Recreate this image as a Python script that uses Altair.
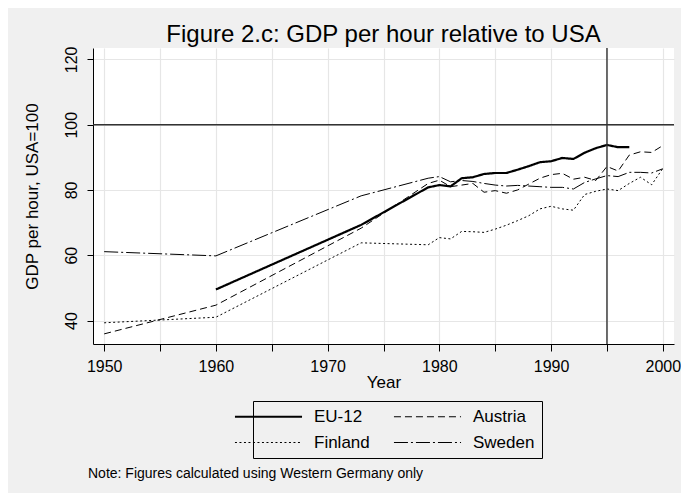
import altair as alt
import pandas as pd

# ---- data ----
countries = ["EU-12", "Austria", "Finland", "Sweden"]

years_eu = [1960, 1973, 1979, 1980, 1981, 1982, 1983, 1984, 1985, 1986, 1987,
            1988, 1989, 1990, 1991, 1992, 1993, 1994, 1995, 1996, 1997]
eu12 = [49.5, 69.3, 80.8, 81.5, 81.1, 83.6, 83.9, 84.9, 85.2, 85.2, 86.2,
        87.3, 88.5, 88.8, 89.8, 89.5, 91.4, 92.8, 93.8, 93.1, 93.1]

years_other = [1950, 1960, 1973, 1979, 1980, 1981, 1982, 1983, 1984, 1985,
               1986, 1987, 1988, 1989, 1990, 1991, 1992, 1993, 1994, 1995,
               1996, 1997, 1998, 1999, 2000]
austria = [35.9, 44.7, 68.3, 82.0, 83.0, 81.0, 81.5, 82.0, 79.3, 79.8,
           79.0, 80.0, 81.8, 83.6, 84.7, 85.1, 83.3, 83.9, 82.9, 87.2,
           85.8, 90.7, 91.7, 91.5, 93.6]
finland = [39.3, 41.0, 63.8, 63.2, 65.4, 65.0, 67.3, 67.2, 67.0, 68.0,
           69.2, 70.6, 72.1, 74.2, 75.0, 74.2, 73.8, 78.6, 79.6, 80.3,
           79.8, 82.0, 83.9, 81.6, 86.6]
sweden = [61.1, 59.8, 78.2, 83.6, 84.1, 82.5, 82.9, 82.6, 82.0, 81.5,
          81.2, 81.4, 81.2, 81.0, 80.8, 80.8, 80.3, 82.3, 83.4, 84.4,
          84.1, 85.4, 85.4, 85.2, 86.5]

x_ticks = [1950, 1955, 1960, 1965, 1970, 1975, 1980, 1985, 1990, 1995, 2000]
y_ticks = [40, 60, 80, 100, 120]
ref_y = [100]
ref_x = [1995]
note = "Note: Figures calculated using Western Germany only"
title = "Figure 2.c: GDP per hour relative to USA"

rows = []
for y, v in zip(years_eu, eu12):
    rows.append({"country": "EU-12", "year": y, "value": v})
for name, vals in [("Austria", austria), ("Finland", finland), ("Sweden", sweden)]:
    for y, v in zip(years_other, vals):
        rows.append({"country": name, "year": y, "value": v})
df = pd.DataFrame(rows)

FONT = "Liberation Sans"

xscale = alt.Scale(domain=[1949, 2001], nice=False, zero=False)
yscale = alt.Scale(domain=[32.8, 123.5], nice=False, zero=False)

xaxis = alt.Axis(values=x_ticks, format="d",
                 labelExpr="datum.value % 10 == 0 ? datum.label : ''",
                 title="Year", grid=True, gridColor="#e6e6e6", gridWidth=1.2,
                 tickSize=7, tickColor="black", domainColor="black",
                 labelFontSize=16, titleFontSize=17, labelPadding=7,
                 titlePadding=0, labelFont=FONT, titleFont=FONT,
                 labelColor="black", titleColor="black", titleFontWeight="normal")
yaxis = alt.Axis(values=y_ticks, title="GDP per hour, USA=100", grid=True,
                 gridColor="#e6e6e6", gridWidth=1.2, tickSize=6,
                 tickColor="black", domainColor="black", labelAngle=-90,
                 labelAlign="center", labelBaseline="bottom", labelPadding=8,
                 labelFontSize=16, titleFontSize=17, titlePadding=22,
                 labelFont=FONT, titleFont=FONT, labelColor="black",
                 titleColor="black", titleFontWeight="normal")

lines = alt.Chart(df).mark_line(color="black").encode(
    x=alt.X("year:Q", scale=xscale, axis=xaxis),
    y=alt.Y("value:Q", scale=yscale, axis=yaxis),
    strokeDash=alt.StrokeDash("country:N",
                              scale=alt.Scale(domain=countries,
                                              range=[[1, 0], [7, 4], [2, 2.5], [14, 3, 2, 3]]),
                              legend=alt.Legend(title=None)),
    strokeWidth=alt.StrokeWidth("country:N",
                                scale=alt.Scale(type="ordinal", domain=countries,
                                                range=[2.2, 1, 1, 1]),
                                legend=alt.Legend(title=None)),
    detail="country:N",
)

hrule = alt.Chart(pd.DataFrame({"v": ref_y})).mark_rule(color="#333333", strokeWidth=1.4).encode(
    y=alt.Y("v:Q", scale=yscale))
vrule = alt.Chart(pd.DataFrame({"v": ref_x})).mark_rule(color="#333333", strokeWidth=1.4).encode(
    x=alt.X("v:Q", scale=xscale))

note_layer = alt.Chart(pd.DataFrame({"t": [note]})).mark_text(
    align="left", baseline="middle", fontSize=14, font=FONT, color="black"
).encode(text="t:N", x=alt.value(-5), y=alt.value(426))

chart = alt.layer(lines, hrule, vrule, note_layer).properties(
    width=581, height=296,
    title=alt.TitleParams(title, fontSize=24, font=FONT, fontWeight="normal",
                          color="black", anchor="middle", offset=1, dy=2),
    autosize=alt.AutoSizeParams(type="none"),
    padding={"left": 85, "top": 40, "right": 7, "bottom": 149},
).configure(background="#f0f0f0").configure_view(fill="white", stroke=None).configure_legend(
    orient="none", legendX=160, legendY=353, strokeColor="black", padding=7,
    columns=2, direction="horizontal", columnPadding=21, rowPadding=8,
    symbolType="M-5,0H5", symbolSize=180,
    symbolStrokeColor="black", labelFontSize=17, labelFont=FONT, labelColor="black",
    labelOffset=37, fillColor="#f0f0f0",
)

chart.save("out.html", embed_options={"renderer": "svg", "actions": False})
